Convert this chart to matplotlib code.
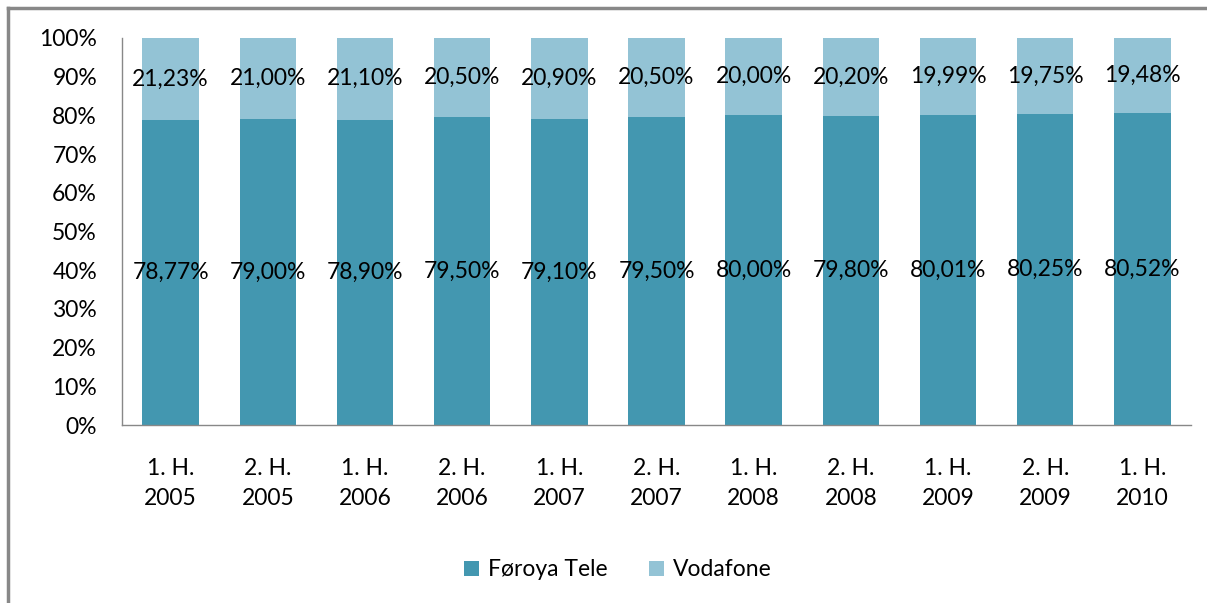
import matplotlib
matplotlib.use("Agg")
import matplotlib.pyplot as plt
from matplotlib.lines import Line2D
import numpy as np

categories = ["1. H.\n2005", "2. H.\n2005", "1. H.\n2006", "2. H.\n2006", "1. H.\n2007",
              "2. H.\n2007", "1. H.\n2008", "2. H.\n2008", "1. H.\n2009", "2. H.\n2009",
              "1. H.\n2010"]
foroya = [78.77, 79.00, 78.90, 79.50, 79.10, 79.50, 80.00, 79.80, 80.01, 80.25, 80.52]
vodafone = [21.23, 21.00, 21.10, 20.50, 20.90, 20.50, 20.00, 20.20, 19.99, 19.75, 19.48]
series_names = ["Føroya Tele", "Vodafone"]
colors = ["#4397B0", "#93C3D5"]

plt.rcParams['font.family'] = ['Lato', 'DejaVu Sans']
FS = 16.5

W, H = 1207, 603
fig = plt.figure(figsize=(W / 100, H / 100), dpi=100)
ax = fig.add_axes([122 / W, 1 - 425 / H, (1191 - 122) / W, (425 - 38) / H])

x = np.arange(len(categories))
bw = 0.58
b1 = ax.bar(x, foroya, bw, color=colors[0], label=series_names[0])
b2 = ax.bar(x, vodafone, bw, bottom=foroya, color=colors[1], label=series_names[1])

def fmt(v):
    return f"{v:.2f}%".replace(".", ",")

for i in range(len(x)):
    ax.text(x[i], foroya[i] / 2, fmt(foroya[i]), ha="center", va="center", fontsize=FS, color="black")
    ax.text(x[i], foroya[i] + vodafone[i] / 2, fmt(vodafone[i]), ha="center", va="center", fontsize=FS, color="black")

ax.set_xlim(-0.5, len(x) - 0.5)
ax.set_ylim(0, 100)
ax.set_yticks(np.arange(0, 101, 10))
ax.set_yticklabels([f"{v}%" for v in range(0, 101, 10)], fontsize=FS)
ax.set_xticks(x)
ax.set_xticklabels(categories, fontsize=FS, linespacing=1.5)
ax.tick_params(axis="both", length=0)
ax.tick_params(axis="y", pad=18)
ax.tick_params(axis="x", pad=24)
for s in ["top", "right"]:
    ax.spines[s].set_visible(False)
for s in ["left", "bottom"]:
    ax.spines[s].set_color("#888888")
    ax.spines[s].set_linewidth(1.0)

leg = fig.legend(handles=[b1, b2], labels=series_names, loc="center", bbox_to_anchor=(618 / W, 1 - 570 / H),
                 ncol=2, frameon=False, fontsize=FS, handlelength=0.65, handleheight=0.65,
                 columnspacing=1.8, handletextpad=0.4)

# outer frame (top and left visible)
fig.add_artist(Line2D([8 / W, 8 / W], [0, 1 - 8 / H], transform=fig.transFigure, color="#888888", lw=2.5))
fig.add_artist(Line2D([8 / W, 1], [1 - 8 / H, 1 - 8 / H], transform=fig.transFigure, color="#888888", lw=2.5))

fig.savefig("out.png", dpi=100)
